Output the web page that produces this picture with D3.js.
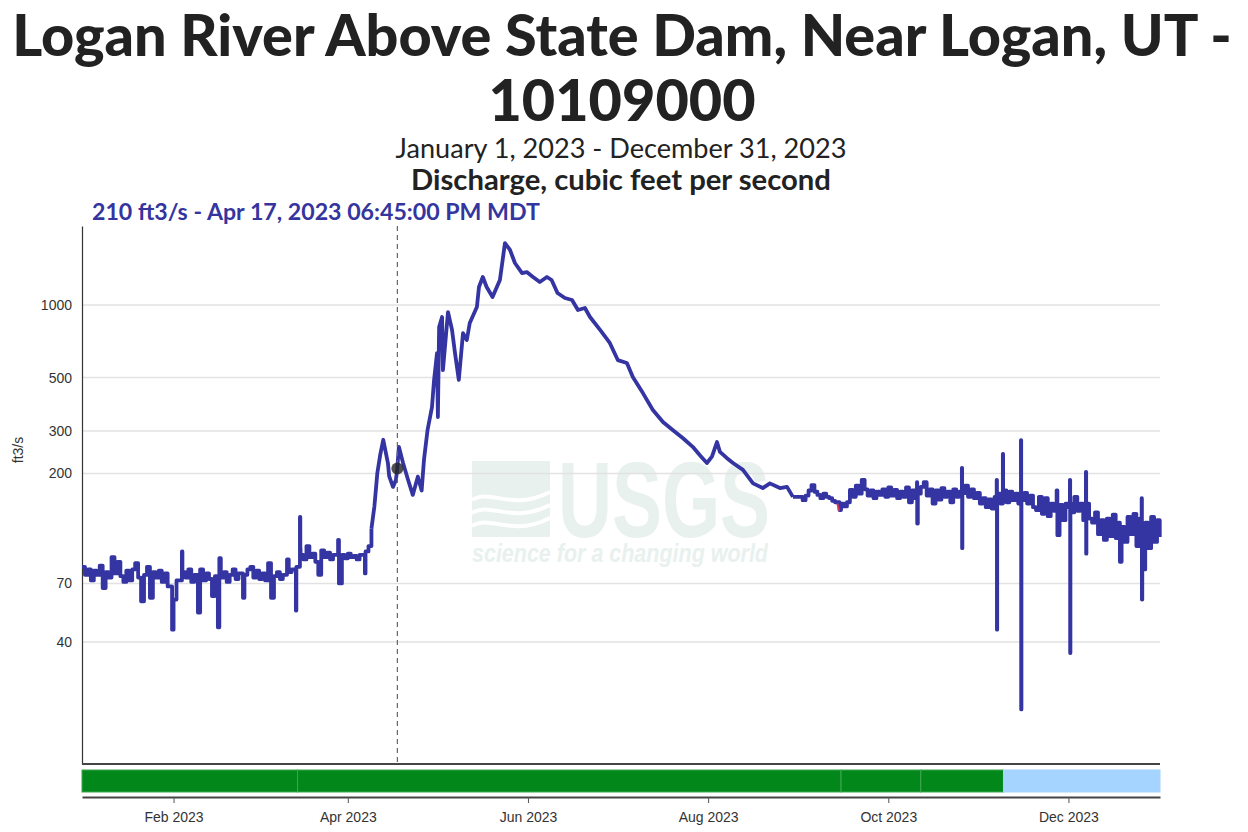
<!DOCTYPE html>
<html>
<head>
<meta charset="utf-8">
<script src="https://cdn.jsdelivr.net/npm/d3@7"></script>
<style>
  body { margin: 0; background: #fff; }
  svg { display: block; font-family: "Liberation Sans", Arial, sans-serif; }
  .head { font-family: Lato, "Open Sans", sans-serif; fill: #222; }
</style>
</head>
<body>
<svg id="chart" width="1248" height="832"></svg>
<script>
// discharge readings, [month-day hour, ft3/s]
const discharge = [
  ["01-01",82],["01-02",76],["01-03",80],["01-04",72],["01-05",79],["01-06",76],["01-07",83],["01-08",67],
  ["01-09",78],["01-10",74],["01-11",90],["01-12",77],["01-13",86],["01-14",75],["01-15",71],["01-16",79],
  ["01-17",72],["01-18",80],["01-19",85],["01-20",74],["01-21",59],["01-22",76],["01-23",82],["01-24",61],
  ["01-25",78],["01-26",74],["01-27",79],["01-28",71],["01-29",77],["01-30",68],["01-31 12",45],
  ["02-01",60],["02-02",72],["02-03 20",95],["02-04",78],["02-05",74],["02-06",80],["02-07",71],["02-08",76],
  ["02-09 06",53],["02-10",80],["02-11",72],["02-12",77],["02-13",73],["02-14",62],["02-15",75],["02-16",46],
  ["02-16 12",89],["02-17",74],["02-18",78],["02-19",71],["02-20",76],["02-21",80],["02-22",73],["02-23",77],
  ["02-24 12",61],["02-25",76],["02-26",80],["02-27",82],["02-28",74],
  ["03-01",79],["03-02",73],["03-03",77],["03-04",72],["03-05",85],["03-06",61],["03-07",75],["03-08",78],
  ["03-09",73],["03-10",76],["03-11 10",88],["03-12",78],["03-13",80],["03-14 10",54],["03-14 14",82],
  ["03-15 19",132],["03-15 22",98],["03-16",92],["03-17",88],["03-18",100],["03-19",90],["03-20",93],
  ["03-21",86],["03-22",76],["03-23",96],["03-24",90],["03-25",94],["03-26",88],["03-27",92],["03-28 17",106],
  ["03-29",70],["03-30",92],["03-31",89],
  ["04-01",93],["04-02",90],["04-03",91],["04-04",88],["04-05",92],["04-06 19",77],["04-07",95],["04-08",100],
  ["04-09",118],["04-10",146],["04-11",201],["04-12",240],["04-13",276],["04-14 14",221],["04-15",195],
  ["04-16 07",176],["04-17 07",188],["04-17 18",210],["04-18 07",258],["04-19 17",221],["04-21 10",188],
  ["04-23",163],["04-24 17",194],["04-26",170],["04-26 19",228],["04-28",303],["04-29 12",377],
  ["04-30 05",489],["05-01 05",632],["05-01 12",343],["05-01 22",810],["05-02 22",892],["05-03 05",537],
  ["05-04 22",935],["05-06 07",788],["05-07 07",632],["05-08 14",489],["05-10",765],["05-11 07",716],
  ["05-12 07",842],["05-14 17",981],["05-15 10",1188],["05-16 17",1307],["05-18",1188],["05-20",1079],
  ["05-22 12",1270],["05-24 05",1807],["05-25 22",1692],["05-27 14",1494],["05-30",1357],["05-31 14",1370],
  ["06-02 17",1307],["06-05",1246],["06-07 10",1307],["06-09",1270],["06-11",1122],["06-13 12",1069],
  ["06-15 22",1049],["06-17 22",953],["06-20 07",972],["06-22",892],["06-25 10",788],["06-28 17",696],
  ["07-01 10",591],["07-04 12",575],["07-06 12",503],["07-09 22",431],["07-13 07",367],["07-16 17",327],
  ["07-20",303],["07-23 12",280],["07-26 19",258],["07-29 05",238],["07-31 14",221],["08-02 07",235],
  ["08-04",270],["08-05",246],["08-07 07",232],["08-09 10",221],["08-12 19",207],["08-16 05",182],
  ["08-19 12",174],["08-21 22",182],["08-25 07",174],["08-27 17",176],["08-29 17",160],
  ["09-01",160],["09-02",155],["09-03",162],["09-04",170],["09-05",179],["09-06",168],["09-07",163],
  ["09-08",158],["09-09",165],["09-10",160],["09-11",158],["09-12",154],["09-13",152],["09-14 12",141],
  ["09-15",150],["09-16",146],["09-17",152],["09-18",171],["09-19",160],["09-20",178],["09-21",165],
  ["09-22",188],["09-23",172],["09-24",162],["09-25",170],["09-26",158],["09-27",168],["09-28",163],
  ["09-29",172],["09-30",160],
  ["10-01",175],["10-02",162],["10-03",171],["10-04",158],["10-05",168],["10-06",160],["10-07",175],
  ["10-08",152],["10-09",170],["10-10",158],["10-10 17",184],["10-10 19",124],["10-11",165],["10-12",176],
  ["10-13",184],["10-14",162],["10-15",172],["10-16",150],["10-17",170],["10-18",156],["10-19",174],
  ["10-20",160],["10-21",168],["10-22",152],["10-23",172],["10-24",160],["10-25",168],["10-25 22",211],
  ["10-26 00",98],["10-26 02",166],["10-27",178],["10-28",160],["10-29",172],["10-30",158],["10-31",166],
  ["11-01",150],["11-02",158],["11-03",145],["11-04",156],["11-05",143],["11-06",160],["11-06 17",188],
  ["11-06 19",45],["11-06 21",152],["11-07",165],["11-08",150],["11-08 19",241],["11-08 21",158],
  ["11-09",170],["11-10",152],["11-11",168],["11-12",155],["11-13",165],["11-14",150],["11-14 22",275],
  ["11-15 00",21],["11-15 02",155],["11-16",166],["11-17",150],["11-18",162],["11-19",145],["11-20",141],
  ["11-21",160],["11-22",136],["11-23",158],["11-24",133],["11-25",150],["11-26",140],["11-27",170],
  ["11-27 06",111],["11-28",148],["11-29",128],["11-30",150],
  ["12-01",145],["12-01 12",188],["12-01 14",36],["12-01 16",150],["12-02",138],["12-03",160],["12-04",140],
  ["12-05",150],["12-06",128],["12-06 22",203],["12-07 00",93],["12-07 02",150],["12-08",130],["12-09",125],
  ["12-10",138],["12-11",112],["12-12",128],["12-13",106],["12-14",130],["12-15",110],["12-16",135],
  ["12-17",108],["12-18",125],["12-18 10",86],["12-19",120],["12-20",104],["12-21",132],["12-22",112],
  ["12-23",136],["12-24",100],["12-25",130],["12-25 19",158],["12-25 21",60],["12-26",80],["12-27",125],
  ["12-28",98],["12-29",132],["12-30",104],["12-31",128],["12-31 22",109]
];

// stretches where the gauge record is blocky (drawn as steps)
const steppy = [["01-01","04-10"],["09-01","12-31 24"]];

// short estimated stretch drawn in red
const estimated = [["09-13 18",150],["09-14 08",140]];

// approval bar segments [start, end, status]
const approvals = [
  ["01-01","03-15","Approved"],
  ["03-15","09-15","Approved"],
  ["09-15","10-12","Approved"],
  ["10-12","11-09","Approved"],
  ["11-09","12-31 24","Provisional"]
];

const yTicks = [40, 70, 200, 300, 500, 1000];
const xTickMonths = ["02-01","04-01","06-01","08-01","10-01","12-01"];
const hover = ["04-17 18:45", 210];

const titleText = "Logan River Above State Dam, Near Logan, UT -";
const siteNo = "10109000";
const dateRange = "January 1, 2023 - December 31, 2023";
const paramName = "Discharge, cubic feet per second";
const hoverText = "210 ft3/s - Apr 17, 2023 06:45:00 PM MDT";

const parseT = s => {
  const [md, hm] = s.split(" ");
  const [h, m] = (hm || "00").split(":");
  const [mo, d] = md.split("-");
  return new Date(2023, +mo - 1, +d, +h, +(m || 0));
};

const svg = d3.select("#chart");
const plotL = 82, plotR = 1160, plotT = 226, plotB = 764;

const x = d3.scaleTime()
  .domain([new Date(2023, 0, 1), new Date(2024, 0, 1)])
  .range([plotL, plotR]);
const y = d3.scaleLog()
  .domain([12.47, 2127])
  .range([plotB, plotT]);

// watermark: logo block, then the wordmark and tagline in one text element
const wm = svg.append("g").attr("fill", "#e8f1ee");
wm.append("rect").attr("x", 472).attr("y", 461).attr("width", 78).attr("height", 76);
wm.selectAll("path.wave").data([0, 1, 2]).enter().append("path")
  .attr("d", i => `M472,${500 + i * 13} C492,${488 + i * 13} 510,${512 + i * 13} 550,${492 + i * 13}`)
  .attr("fill", "none").attr("stroke", "#fff").attr("stroke-width", 4);
const wmText = wm.append("text").attr("font-weight", "bold");
wmText.append("tspan").attr("x", 558).attr("y", 537)
  .attr("font-size", 107)
  .attr("textLength", 212).attr("lengthAdjust", "spacingAndGlyphs")
  .text("USGS");
wmText.append("tspan").attr("x", 472).attr("y", 562)
  .attr("font-size", 25).attr("font-style", "italic")
  .attr("textLength", 296).attr("lengthAdjust", "spacingAndGlyphs")
  .text("science for a changing world");

// grid lines
svg.append("g").selectAll("line").data(yTicks).enter().append("line")
  .attr("x1", plotL).attr("x2", plotR)
  .attr("y1", d => y(d)).attr("y2", d => y(d))
  .attr("stroke", "#e2e2e2").attr("stroke-width", 1.5);

// y axis
const yAxis = svg.append("g")
  .attr("transform", `translate(${plotL},0)`)
  .call(d3.axisLeft(y).tickValues(yTicks).tickSize(0).tickPadding(10).tickFormat(d3.format("d")));
yAxis.select(".domain").attr("stroke", "#333").attr("stroke-width", 1.2);
yAxis.selectAll("text").attr("font-size", 14).attr("fill", "#333")
  .attr("font-family", "'Liberation Sans', Arial, sans-serif");

svg.append("text")
  .attr("transform", `translate(23,450) rotate(-90)`)
  .attr("text-anchor", "middle").attr("font-size", 14).attr("fill", "#333")
  .text("ft3/s");

// plot bottom line
svg.append("line").attr("x1", plotL).attr("x2", plotR).attr("y1", plotB).attr("y2", plotB)
  .attr("stroke", "#444").attr("stroke-width", 2);

// series line: split into pieces, stepped where the record is blocky
const pts = discharge.map(([t, v]) => ({ t: parseT(t), v }));
const stepRanges = steppy.map(([a, b]) => [parseT(a), parseT(b)]);
const isStep = d => stepRanges.some(([a, b]) => d.t >= a && d.t < b);
const pieces = [];
pts.forEach(d => {
  const s = isStep(d);
  const last = pieces[pieces.length - 1];
  if (!last || last.step !== s) {
    pieces.push({ step: s, pts: last ? [last.pts[last.pts.length - 1]] : [] });
  }
  pieces[pieces.length - 1].pts.push(d);
});
const lineStep = d3.line().x(d => x(d.t)).y(d => y(d.v)).curve(d3.curveStepAfter);
const lineLin = d3.line().x(d => x(d.t)).y(d => y(d.v));
svg.append("g").selectAll("path").data(pieces).enter().append("path")
  .attr("d", p => (p.step ? lineStep : lineLin)(p.pts))
  .attr("fill", "none")
  .attr("stroke", "#3434a2").attr("stroke-width", 3.8)
  .attr("stroke-linejoin", "round");

svg.append("path").datum(estimated.map(([t, v]) => ({ t: parseT(t), v })))
  .attr("d", lineLin).attr("fill", "none")
  .attr("stroke", "#d8345f").attr("stroke-width", 2);

// cursor
const hx = x(parseT(hover[0]));
svg.append("line").attr("x1", hx).attr("x2", hx).attr("y1", plotT).attr("y2", plotB)
  .attr("stroke", "#666").attr("stroke-width", 1.2).attr("stroke-dasharray", "5,4");
svg.append("circle").attr("cx", hx).attr("cy", y(hover[1])).attr("r", 6)
  .attr("fill", "rgba(35,35,35,0.8)");

// approval bar
svg.append("g").selectAll("rect").data(approvals).enter().append("rect")
  .attr("x", d => x(parseT(d[0])))
  .attr("width", d => x(parseT(d[1])) - x(parseT(d[0])))
  .attr("y", 770).attr("height", 22)
  .attr("fill", d => d[2] === "Approved" ? "#01871a" : "#a4d4ff")
  .attr("stroke", d => d[2] === "Approved" ? "#3fa64f" : "#a4d4ff")
  .attr("stroke-width", 1);

// x axis
const xAxis = svg.append("g")
  .attr("transform", `translate(0,797)`)
  .call(d3.axisBottom(x).tickValues(xTickMonths.map(parseT)).tickSize(6).tickSizeOuter(0)
    .tickFormat(d3.timeFormat("%b %Y")));
xAxis.select(".domain").attr("stroke", "#444").attr("stroke-width", 2);
xAxis.selectAll(".tick line").attr("stroke", "#555");
xAxis.selectAll("text").attr("font-size", 14).attr("fill", "#333").attr("dy", "1.15em")
  .attr("font-family", "'Liberation Sans', Arial, sans-serif");

// headings, sized to the widths seen in the picture
function fit(t, w) {
  const fs = +t.attr("font-size");
  const len = t.node().getComputedTextLength();
  t.attr("font-size", fs * w / len);
  return fs * w / len;
}
const t1 = svg.append("text").attr("class", "head").attr("x", 622).attr("y", 56)
  .attr("text-anchor", "middle").attr("font-weight", 900).attr("font-size", 52).text(titleText);
const fs1 = fit(t1, 1220);
svg.append("text").attr("class", "head").attr("x", 622).attr("y", 121)
  .attr("text-anchor", "middle").attr("font-weight", 900).attr("font-size", fs1).text(siteNo);
const t3 = svg.append("text").attr("class", "head").attr("x", 621).attr("y", 158)
  .attr("text-anchor", "middle").attr("font-size", 26).text(dateRange);
fit(t3, 451);
const t4 = svg.append("text").attr("class", "head").attr("x", 621).attr("y", 190)
  .attr("text-anchor", "middle").attr("font-weight", "bold").attr("font-size", 26).text(paramName);
fit(t4, 420);
const t5 = svg.append("text").attr("class", "head").attr("x", 92).attr("y", 220)
  .attr("font-weight", "bold").attr("font-size", 21).style("fill", "#3535a0").text(hoverText);
fit(t5, 448);
</script>
</body>
</html>
